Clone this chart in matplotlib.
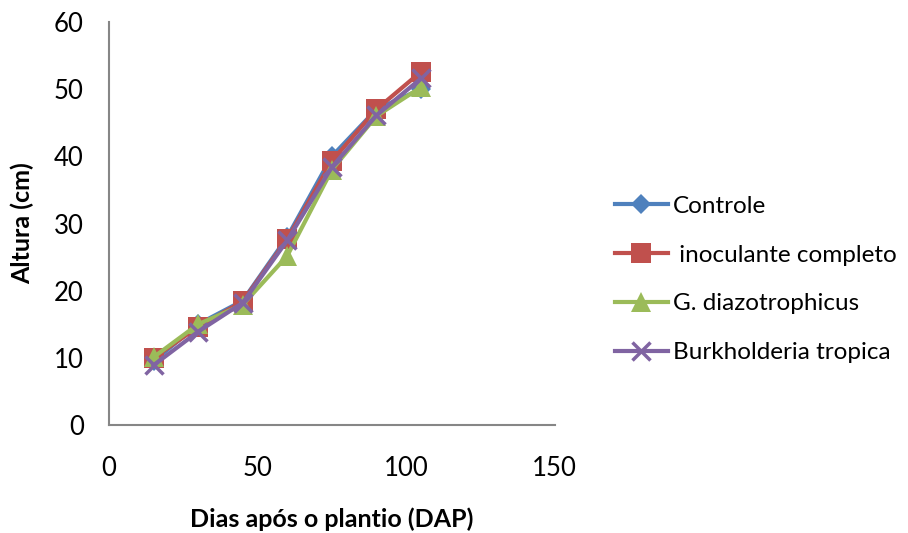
import matplotlib.pyplot as plt

plt.rcParams['font.family'] = ['Lato', 'DejaVu Sans']

dias = [15, 30, 45, 60, 75, 90, 105]
controle = [9.5, 15.0, 18.5, 28.0, 40.0, 47.0, 50.0]
inoculante = [10.0, 14.6, 18.4, 27.7, 39.3, 47.0, 52.6]
g_diazo = [10.1, 15.0, 17.9, 25.2, 38.0, 46.0, 50.3]
burkholderia = [8.9, 13.9, 18.2, 27.5, 38.4, 46.1, 51.6]

series = [
    ('Controle', controle, '#4F81BD', 'D', 10),
    (' inoculante completo', inoculante, '#C0504D', 's', 14),
    ('G. diazotrophicus', g_diazo, '#9BBB59', '^', 15),
    ('Burkholderia tropica', burkholderia, '#8064A2', 'x', 13),
]

fig = plt.figure(figsize=(9.08, 5.33), dpi=100)
ax = fig.add_axes([0.120, 0.2026, 0.491, 0.7561])

for label, vals, color, mk, ms in series:
    ax.plot(dias, vals, color=color, linewidth=3, marker=mk, markersize=ms,
            markeredgewidth=2.5 if mk == 'x' else 0, label=label)

ax.set_xlim(0, 150)
ax.set_ylim(0, 60)
ax.set_xticks([0, 50, 100, 150])
ax.set_yticks(range(0, 61, 10))
for side in ('top', 'right'):
    ax.spines[side].set_visible(False)
for side in ('left', 'bottom'):
    ax.spines[side].set_color('#868686')
    ax.spines[side].set_linewidth(1.5)
ax.tick_params(length=0, labelsize=18.5)
ax.tick_params(axis='y', pad=18)
ax.tick_params(axis='x', pad=22)

ax.set_xlabel('Dias após o plantio (DAP)', fontsize=18, fontweight='bold', labelpad=19)
ax.set_ylabel('Altura (cm)', fontsize=18, fontweight='bold', labelpad=14)

fig.legend(loc='center left', bbox_to_anchor=(0.677, 0.4756), frameon=False,
           fontsize=17.5, handlelength=2.2, handletextpad=0.2,
           labelspacing=1.15, borderpad=0, borderaxespad=0)

fig.savefig('out.png', dpi=100)
